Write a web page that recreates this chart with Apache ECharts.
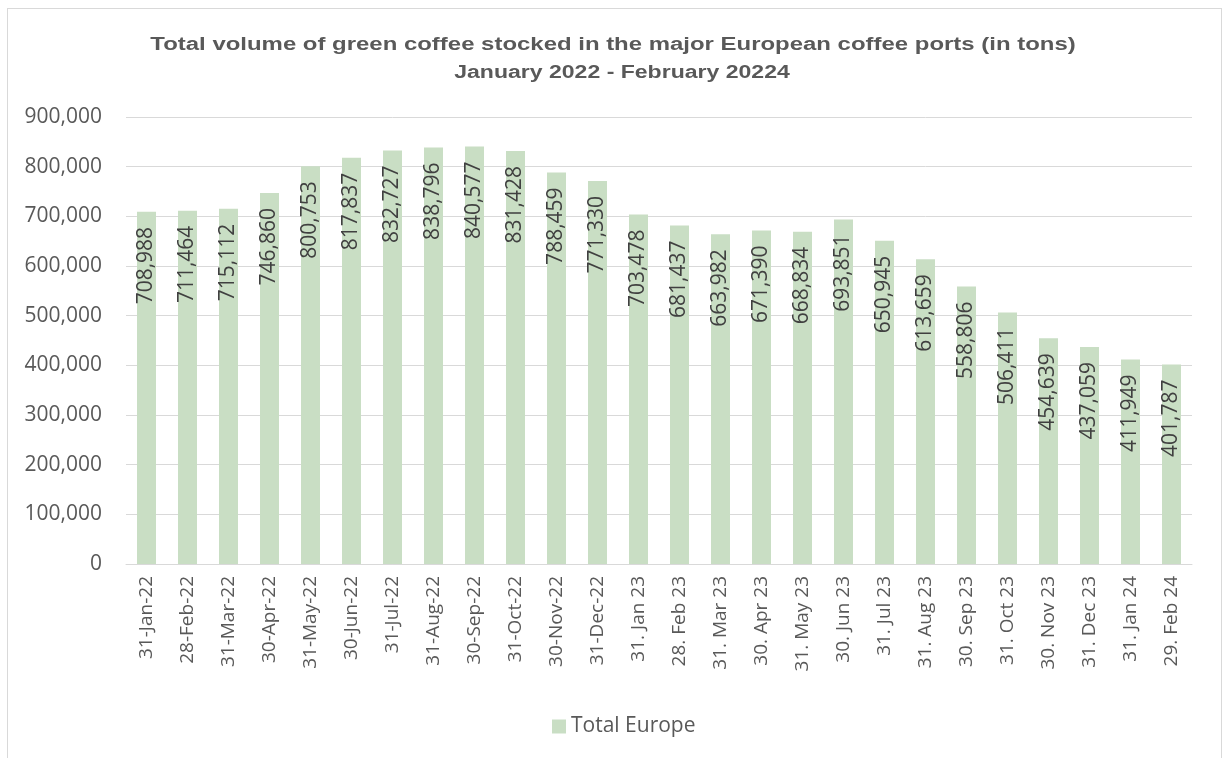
<!DOCTYPE html>
<html>
<head>
<meta charset="utf-8">
<script src="https://cdn.jsdelivr.net/npm/echarts@6/dist/echarts.min.js"></script>
<style>
  html, body { margin: 0; padding: 0; background: #fff; }
  #frame { position: absolute; left: 7px; top: 8px; width: 1215px; height: 760px; border: 1px solid #d9d9d9; box-sizing: border-box; }
  #chart { position: absolute; left: 0; top: 0; width: 1223px; height: 758px; }
</style>
</head>
<body>
<div id="frame"></div>
<div id="chart"></div>
<script>
// Month-end dates of the stock reports
const categories = [
  '31-Jan-22', '28-Feb-22', '31-Mar-22', '30-Apr-22', '31-May-22', '30-Jun-22',
  '31-Jul-22', '31-Aug-22', '30-Sep-22', '31-Oct-22', '30-Nov-22', '31-Dec-22',
  '31. Jan 23', '28. Feb 23', '31. Mar 23', '30. Apr 23', '31. May 23', '30. Jun 23',
  '31. Jul 23', '31. Aug 23', '30. Sep 23', '31. Oct 23', '30. Nov 23', '31. Dec 23',
  '31. Jan 24', '29. Feb 24'
];
// Green coffee stocks, all ports combined (tons)
const totalEurope = [
  708988, 711464, 715112, 746860, 800753, 817837,
  832727, 838796, 840577, 831428, 788459, 771330,
  703478, 681437, 663982, 671390, 668834, 693851,
  650945, 613659, 558806, 506411, 454639, 437059,
  411949, 401787
];
const seriesName = 'Total Europe';
const titleLines = [
  'Total volume of green coffee stocked in the major European coffee ports (in tons)',
  'January 2022 - February 20224'
];

const fmt = v => v.toLocaleString('en-US');
const font = '"Open Sans", Lato, sans-serif';
const titleFont = 'bold 18px "Liberation Sans", Arial, sans-serif';

const chart = echarts.init(document.getElementById('chart'), null, { renderer: 'canvas' });
chart.setOption({
  animation: false,
  // Two-line heading, drawn wide as in the house style
  graphic: [
    {
      type: 'text', x: 613, y: 45, scaleX: 1.33,
      style: { text: titleLines[0], font: titleFont, fill: '#595959', align: 'center', verticalAlign: 'middle' }
    },
    {
      type: 'text', x: 622, y: 73, scaleX: 1.28,
      style: { text: titleLines[1], font: titleFont, fill: '#595959', align: 'center', verticalAlign: 'middle' }
    }
  ],
  legend: {
    data: [seriesName],
    bottom: 16,
    left: 547,
    itemWidth: 14,
    itemHeight: 14,
    itemGap: 4,
    icon: 'rect',
    textStyle: { fontFamily: font, fontSize: 21, color: '#595959', padding: [0, 0, 0, 0] }
  },
  grid: { left: 126, right: 31, top: 117, bottom: 194, containLabel: false },
  xAxis: {
    type: 'category',
    data: categories,
    axisLine: { lineStyle: { color: '#d9d9d9', width: 1 } },
    axisTick: { show: false },
    axisLabel: {
      rotate: 90,
      interval: 0,
      margin: 12,
      fontFamily: font,
      fontSize: 19,
      color: '#595959'
    }
  },
  yAxis: {
    type: 'value',
    min: 0,
    max: 900000,
    interval: 100000,
    axisLine: { show: false },
    axisTick: { show: false },
    splitLine: { lineStyle: { color: '#d9d9d9', width: 1 } },
    axisLabel: {
      formatter: v => fmt(v),
      margin: 24,
      fontFamily: font,
      fontSize: 21,
      color: '#595959'
    }
  },
  series: [{
    name: seriesName,
    type: 'bar',
    data: totalEurope,
    barWidth: 19,
    itemStyle: { color: '#c9dec4' },
    label: {
      show: true,
      position: 'insideTop',
      rotate: 90,
      align: 'right',
      verticalAlign: 'middle',
      distance: 15,
      formatter: p => fmt(p.value),
      fontFamily: font,
      fontSize: 21,
      color: '#404040'
    }
  }]
});
</script>
</body>
</html>
